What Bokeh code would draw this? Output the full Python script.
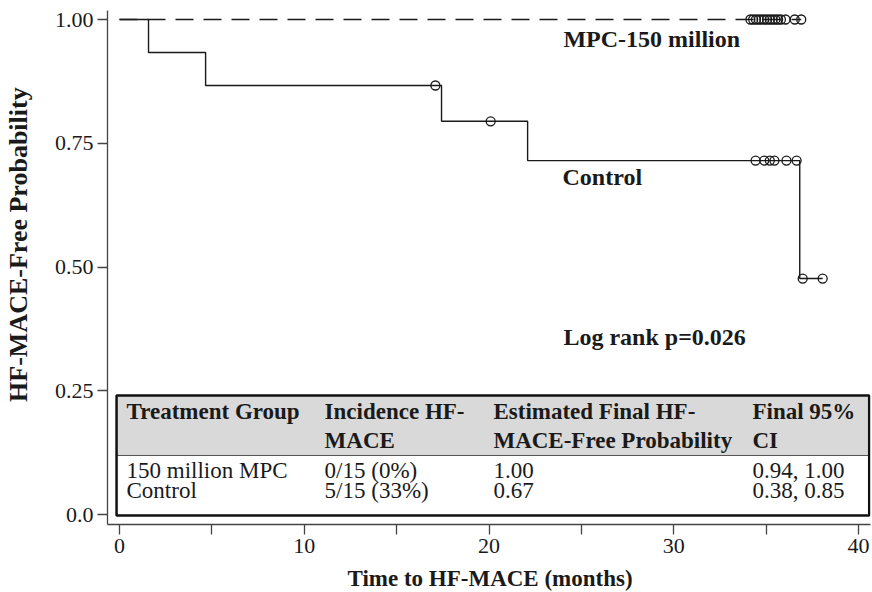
import math
from bokeh.plotting import figure
from bokeh.layouts import row, column
from bokeh.models import Range1d, FixedTicker, Label
from bokeh.embed import file_html
from bokeh.resources import INLINE
from bokeh.core.properties import value

# ---------------- data ----------------
ctrl_time = [0.0, 1.57, 4.66, 17.43, 22.09, 36.82, 38.06]
ctrl_surv = [1.0, 0.9333, 0.8667, 0.7944, 0.7150, 0.4767, 0.4767]
ctrl_cens_time = [17.10, 20.09, 34.43, 34.90, 35.20, 35.45, 36.10, 36.65, 36.98, 38.06]
ctrl_cens_surv = [0.8667, 0.7944, 0.7150, 0.7150, 0.7150, 0.7150, 0.7150, 0.7150, 0.4767, 0.4767]

mpc_time = [0.0, 36.90]
mpc_surv = [1.0, 1.0]
mpc_cens_time = [34.15, 34.30, 34.45, 34.60, 34.75, 34.90, 35.05, 35.20, 35.35,
                 35.50, 35.65, 35.80, 36.05, 36.55, 36.90]
mpc_cens_surv = [1.0] * 15

x_ticks = [0, 10, 20, 30, 40]
x_minor_ticks = [5, 15, 25, 35]
y_ticks = [0.0, 0.25, 0.5, 0.75, 1.0]
y_tick_labels = ["0.0", "0.25", "0.50", "0.75", "1.00"]

table_header = [["Treatment Group", ""],
                ["Incidence HF-", "MACE"],
                ["Estimated Final HF-", "MACE-Free Probability"],
                ["Final 95%", "CI"]]
table_rows = [["150 million MPC", "0/15 (0%)", "1.00", "0.94, 1.00"],
              ["Control", "5/15 (33%)", "0.67", "0.38, 0.85"]]

group_labels = ["MPC-150 million", "Control"]
pvalue_text = "Log rank p=0.026"
x_title = "Time to HF-MACE (months)"
y_title = "HF-MACE-Free Probability"

# ---------------- styling ----------------
FONT = "Liberation Serif"
INK = "#1a1a1a"
AXIS = "#444444"
TOP_H = 566

# narrow strip holding the y-axis title
lab = figure(width=40, height=TOP_H, output_backend="svg", toolbar_location=None,
             x_range=Range1d(0, 40), y_range=Range1d(TOP_H, 0),
             x_axis_type=None, y_axis_type=None, min_border=0)
lab.outline_line_color = None
lab.grid.visible = False
lab.add_layout(Label(x=18, y=431, text=y_title, angle=math.pi / 2,
                     text_align="left", text_baseline="middle",
                     text_font=FONT, text_font_size="26px", text_font_style="bold",
                     text_color=INK))

p = figure(width=832, height=TOP_H, output_backend="svg", toolbar_location=None,
           x_range=Range1d(-0.65, 40.65), y_range=Range1d(-0.0202, 1.0182),
           min_border_left=67, min_border_right=2, min_border_top=10, min_border_bottom=42)
p.outline_line_color = None
p.grid.visible = False

for ax in (p.xaxis[0], p.yaxis[0]):
    ax.axis_line_color = AXIS
    ax.axis_line_width = 1.3
    ax.major_tick_line_color = AXIS
    ax.major_tick_line_width = 1.3
    ax.minor_tick_line_color = AXIS
    ax.minor_tick_line_width = 1.3
    ax.major_tick_in = 0
    ax.major_tick_out = 10
    ax.major_label_text_font = FONT
    ax.major_label_text_font_size = "22px"
    ax.major_label_text_color = INK
    ax.major_label_standoff = 4

p.xaxis[0].ticker = FixedTicker(ticks=x_ticks, minor_ticks=x_minor_ticks)
p.xaxis[0].minor_tick_in = 0
p.xaxis[0].minor_tick_out = 10

p.yaxis[0].ticker = FixedTicker(ticks=y_ticks, minor_ticks=[])
p.yaxis[0].minor_tick_out = 0
p.yaxis[0].minor_tick_in = 0
p.yaxis[0].major_label_overrides = {t: l for t, l in zip(y_ticks, y_tick_labels)}

# ---------------- curves ----------------
p.line(mpc_time, mpc_surv, line_color=INK, line_width=1.4, line_dash="18 10")
p.step(ctrl_time, ctrl_surv, mode="after", line_color=INK, line_width=1.4)
p.scatter(ctrl_cens_time, ctrl_cens_surv, marker="circle", size=9,
          fill_color=None, line_color=INK, line_width=1.3)
p.scatter(mpc_cens_time, mpc_cens_surv, marker="circle", size=9,
          fill_color=None, line_color=INK, line_width=1.3)

# ---------------- curve labels ----------------
for txt, (lx, ly) in zip(group_labels + [pvalue_text],
                         [(24.03, 0.9616), (23.98, 0.6821), (24.03, 0.3591)]):
    p.add_layout(Label(x=lx, y=ly, text=txt, text_font=FONT, text_font_size="24px",
                       text_font_style="bold", text_color=INK, text_baseline="alphabetic"))

# ---------------- table ----------------
tb_left, tb_right, tb_top, tb_bottom, tb_head = -0.16, 40.58, 0.2404, -0.002, 0.1192
col_x = [0.38, 11.10, 20.24, 34.26]
head_y = [0.2086, 0.1501]
row_y = [0.0895, 0.0491]

p.quad(left=[tb_left], right=[tb_right], top=[tb_top], bottom=[tb_head],
       fill_color="#d9d9d9", line_color=None)
p.segment(x0=[tb_left], y0=[tb_head], x1=[tb_right], y1=[tb_head],
          line_color="#555555", line_width=1)
p.quad(left=[tb_left], right=[tb_right], top=[tb_top], bottom=[tb_bottom],
       fill_color=None, line_color="#111111", line_width=2.5)

hx, hy, ht = [], [], []
for ci, lines in enumerate(table_header):
    for li, t in enumerate(lines):
        if t:
            hx.append(col_x[ci]); hy.append(head_y[li]); ht.append(t)
p.text(x=hx, y=hy, text=ht, text_font=value(FONT), text_font_size="23px",
       text_font_style="bold", text_color=INK, text_baseline="alphabetic", text_align="left")

rx, ry, rt = [], [], []
for ri, r in enumerate(table_rows):
    for ci, t in enumerate(r):
        rx.append(col_x[ci]); ry.append(row_y[ri]); rt.append(t)
p.text(x=rx, y=ry, text=rt, text_font=value(FONT), text_font_size="23px",
       text_color=INK, text_baseline="alphabetic", text_align="left")

# bottom strip holding the x-axis title
bot = figure(width=872, height=592 - TOP_H, output_backend="svg", toolbar_location=None,
             x_range=Range1d(0, 872), y_range=Range1d(592 - TOP_H, 0),
             x_axis_type=None, y_axis_type=None, min_border=0)
bot.outline_line_color = None
bot.grid.visible = False
bot.add_layout(Label(x=347, y=12, text=x_title, text_align="left", text_baseline="middle",
                     text_font=FONT, text_font_size="23px", text_font_style="bold",
                     text_color=INK))

layout = column(row(lab, p), bot)
open("out.html", "w").write(file_html(layout, INLINE))
